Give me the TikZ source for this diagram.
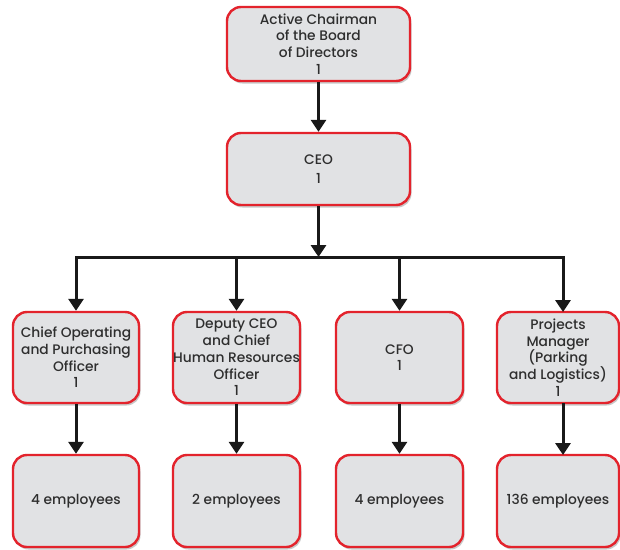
\documentclass[tikz,border=0pt]{standalone}
\usepackage{fontspec}
\setmainfont{Poppins}[UprightFont={* Medium}]
\usetikzlibrary{shadows,arrows.meta}
\definecolor{boxred}{HTML}{E3232C}
\definecolor{boxgray}{HTML}{E1E2E4}
\definecolor{txt}{HTML}{2E2E2E}
\begin{document}
\begin{tikzpicture}[x=1pt,y=-1pt,
  box/.style={draw=boxred, fill=boxgray, line width=2.4pt, rounded corners=14pt,
    align=center, inner sep=0pt, text=txt,
    font=\fontsize{13.8}{16.7}\selectfont,
    drop shadow={shadow xshift=1.5pt, shadow yshift=-2.5pt, opacity=0.3, fill=black!70}},
  conn/.style={line width=3pt, draw=black!90},
  arr/.style={conn, -{Triangle[width=15pt,length=12pt]}}
]
\useasboundingbox[fill=white] (0,0) rectangle (620,549);

\node[box, minimum width=183pt, minimum height=74pt] (top) at (318.5,44)
  {Active Chairman\\of the Board\\of Directors\\1};
\node[box, minimum width=183pt, minimum height=72pt] (ceo) at (318.5,169)
  {CEO\\[2pt]1};

\node[box, minimum width=126pt, minimum height=91pt] (b1) at (76,357.5)
  {Chief Operating\\and Purchasing\\Officer\\1};
\node[box, minimum width=127pt, minimum height=91pt] (b2) at (236.5,357.5)
  {Deputy CEO\\and Chief\\Human Resources\\Officer\\1};
\node[box, minimum width=127pt, minimum height=91pt] (b3) at (399.5,357.5)
  {CFO\\1};
\node[box, minimum width=122pt, minimum height=91pt] (b4) at (558,357.5)
  {Projects\\Manager\\(Parking\\and Logistics)\\1};

\node[box, minimum width=126pt, minimum height=92pt] (e1) at (76,501) {4 employees};
\node[box, minimum width=127pt, minimum height=92pt] (e2) at (236.5,501) {2 employees};
\node[box, minimum width=127pt, minimum height=92pt] (e3) at (399.5,501) {4 employees};
\node[box, minimum width=122pt, minimum height=92pt] (e4) at (558,501) {136 employees};

\coordinate (busc) at (318.5,257);
\coordinate (bus4) at (563,257);
\coordinate (top4) at (563,312);
\coordinate (bot4) at (563,403);
\coordinate (low4) at (563,455);

\draw[arr] (top) -- (ceo);
\draw[arr] (ceo) -- (busc);
\draw[arr] (busc) -| (b1.north);
\draw[arr] (busc) -| (b2.north);
\draw[arr] (busc) -| (b3.north);
\draw[arr] (busc) -- (bus4) -- (top4);

\draw[arr] (b1) -- (e1);
\draw[arr] (b2) -- (e2);
\draw[arr] (b3) -- (e3);
\draw[arr] (bot4) -- (low4);
\end{tikzpicture}
\end{document}
